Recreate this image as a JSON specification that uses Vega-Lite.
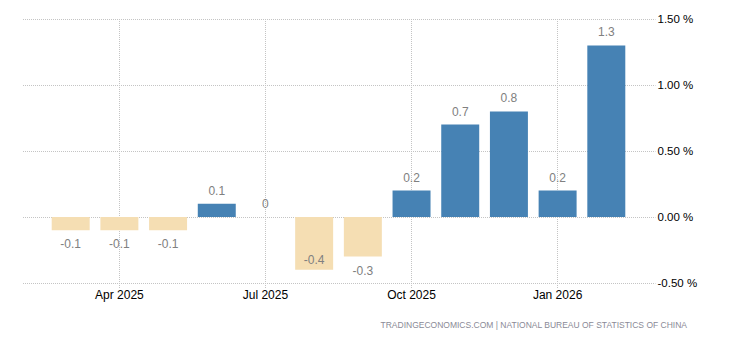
{
  "$schema": "https://vega.github.io/schema/vega-lite/v6.json",
  "width": 633,
  "height": 264,
  "autosize": {"type": "none"},
  "padding": {"left": 22, "top": 19, "right": 75, "bottom": 57},
  "background": "white",
  "config": {
    "view": {"stroke": null},
    "font": "Liberation Sans"
  },
  "title": {
    "text": "TRADINGECONOMICS.COM  |  NATIONAL BUREAU OF STATISTICS OF CHINA",
    "orient": "bottom",
    "anchor": "end",
    "frame": "group",
    "dx": 32,
    "offset": 21,
    "fontSize": 8.5,
    "fontWeight": "normal",
    "color": "#8a8a96",
    "font": "Liberation Sans"
  },
  "data": {
    "values": [
      {"month": "Mar 2025", "value": -0.1},
      {"month": "Apr 2025", "value": -0.1},
      {"month": "May 2025", "value": -0.1},
      {"month": "Jun 2025", "value": 0.1},
      {"month": "Jul 2025", "value": 0},
      {"month": "Aug 2025", "value": -0.4},
      {"month": "Sep 2025", "value": -0.3},
      {"month": "Oct 2025", "value": 0.2},
      {"month": "Nov 2025", "value": 0.7},
      {"month": "Dec 2025", "value": 0.8},
      {"month": "Jan 2026", "value": 0.2},
      {"month": "Feb 2026", "value": 1.3}
    ]
  },
  "encoding": {
    "x": {
      "field": "month",
      "type": "ordinal",
      "sort": null,
      "scale": {"paddingInner": 0.22, "paddingOuter": 0.61},
      "axis": {
        "title": null,
        "values": ["Apr 2025", "Jul 2025", "Oct 2025", "Jan 2026"],
        "labelAngle": 0,
        "labelFontSize": 12,
        "labelColor": "#000000",
        "labelPadding": 1,
        "domain": false,
        "ticks": true,
        "tickSize": 5,
        "tickColor": "#c4c4c4",
        "tickDash": [1, 1],
        "tickDashOffset": 0.5,
        "grid": true,
        "gridColor": "#c4c4c4",
        "gridDash": [1, 1],
        "gridDashOffset": 0.5,
        "gridWidth": 1
      }
    },
    "y": {
      "field": "value",
      "type": "quantitative",
      "scale": {"domain": [-0.5, 1.5], "nice": false, "zero": false},
      "axis": {
        "title": null,
        "orient": "right",
        "values": [-0.5, 0, 0.5, 1, 1.5],
        "labelExpr": "replace(format(datum.value, '.2f'), '\u2212', '-') + ' %'",
        "labelFontSize": 11.5,
        "labelColor": "#000000",
        "labelPadding": 2,
        "domain": false,
        "ticks": false,
        "grid": true,
        "gridColor": "#c4c4c4",
        "gridDash": [1, 1],
        "gridDashOffset": 0.5,
        "gridWidth": 1
      }
    }
  },
  "layer": [
    {
      "mark": {"type": "bar"},
      "encoding": {
        "y2": {"datum": 0},
        "color": {
          "condition": {"test": "datum.value < 0", "value": "#f5deb3"},
          "value": "#4682b4"
        }
      }
    },
    {
      "transform": [{"filter": "datum.value >= 0"}],
      "mark": {"type": "text", "dy": -13, "baseline": "middle", "fontSize": 12, "color": "#808080"},
      "encoding": {"text": {"field": "value", "type": "nominal"}}
    },
    {
      "transform": [{"filter": "datum.value < 0 && datum.value > -0.35"}],
      "mark": {"type": "text", "dy": 14, "baseline": "middle", "fontSize": 12, "color": "#808080"},
      "encoding": {"text": {"field": "value", "type": "nominal"}}
    },
    {
      "transform": [{"filter": "datum.value <= -0.35"}],
      "mark": {"type": "text", "dy": -10, "baseline": "middle", "fontSize": 12, "color": "#808080"},
      "encoding": {"text": {"field": "value", "type": "nominal"}}
    }
  ]
}
